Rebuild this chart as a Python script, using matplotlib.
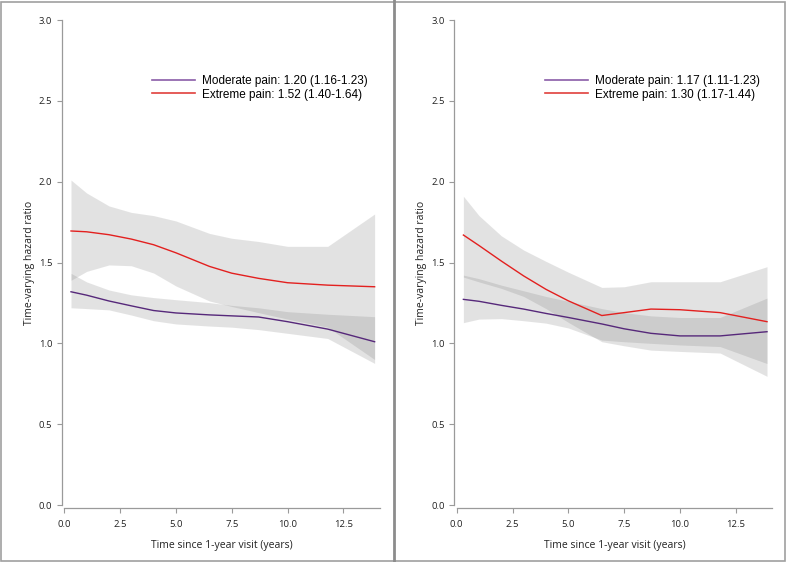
import matplotlib
matplotlib.use("Agg")
import matplotlib.pyplot as plt
from matplotlib.lines import Line2D
from matplotlib.patches import Rectangle

# time grid (years since 1-year visit)
years = [0.3, 1.0, 2.0, 3.0, 4.0, 5.0, 6.5, 7.5, 8.7, 10.0, 11.8, 13.9]

# left panel
left_mod = [1.319, 1.298, 1.262, 1.232, 1.203, 1.188, 1.176, 1.170, 1.163, 1.134, 1.088, 1.010]
left_mod_lo = [1.220, 1.215, 1.207, 1.175, 1.140, 1.120, 1.107, 1.100, 1.085, 1.062, 1.030, 0.876]
left_mod_hi = [1.433, 1.380, 1.330, 1.300, 1.283, 1.270, 1.252, 1.235, 1.220, 1.196, 1.180, 1.165]
left_ext = [1.695, 1.690, 1.672, 1.645, 1.610, 1.560, 1.476, 1.434, 1.402, 1.375, 1.360, 1.350]
left_ext_lo = [1.390, 1.445, 1.485, 1.480, 1.435, 1.355, 1.262, 1.228, 1.190, 1.150, 1.100, 0.900]
left_ext_hi = [2.010, 1.930, 1.850, 1.810, 1.790, 1.757, 1.680, 1.650, 1.630, 1.600, 1.600, 1.800]

# right panel
right_mod = [1.272, 1.260, 1.235, 1.212, 1.185, 1.160, 1.120, 1.090, 1.062, 1.046, 1.046, 1.072]
right_mod_lo = [1.128, 1.150, 1.153, 1.140, 1.125, 1.095, 1.020, 1.010, 1.000, 0.990, 0.980, 0.875]
right_mod_hi = [1.422, 1.400, 1.360, 1.325, 1.290, 1.260, 1.215, 1.190, 1.170, 1.160, 1.160, 1.280]
right_ext = [1.670, 1.605, 1.509, 1.417, 1.334, 1.263, 1.172, 1.190, 1.212, 1.208, 1.190, 1.134]
right_ext_lo = [1.410, 1.380, 1.340, 1.290, 1.215, 1.130, 1.010, 0.985, 0.958, 0.950, 0.940, 0.796]
right_ext_hi = [1.910, 1.790, 1.665, 1.577, 1.507, 1.440, 1.346, 1.350, 1.381, 1.381, 1.381, 1.474]

left_labels = ["Moderate pain: 1.20 (1.16-1.23)", "Extreme pain: 1.52 (1.40-1.64)"]
right_labels = ["Moderate pain: 1.17 (1.11-1.23)", "Extreme pain: 1.30 (1.17-1.44)"]

yticks = [0.0, 0.5, 1.0, 1.5, 2.0, 2.5, 3.0]
xticks = [0.0, 2.5, 5.0, 7.5, 10.0, 12.5]

purple = "#56287a"
red = "#e3201f"
band = "#7f7f7f"
axis_grey = "#9a9a9a"

tick_font = "Open Sans"
legend_font = "Liberation Sans"

fig = plt.figure(figsize=(7.87, 5.62), dpi=100)


def panel(ax, mod, mod_lo, mod_hi, ext, ext_lo, ext_hi, labels, legend_x):
    ax.fill_between(years, mod_lo, mod_hi, color=band, alpha=0.22, lw=0)
    ax.fill_between(years, ext_lo, ext_hi, color=band, alpha=0.22, lw=0)
    ax.plot(years, mod, color=purple, lw=1.0)
    ax.plot(years, ext, color=red, lw=1.0)

    ax.set_xlim(0, 14.14)
    ax.set_ylim(0, 3.0)
    ax.set_xticks(xticks)
    ax.set_yticks(yticks)
    ax.set_xticklabels([f"{t:.1f}" for t in xticks])
    ax.set_yticklabels([f"{t:.1f}" for t in yticks])
    for side in ("top", "right"):
        ax.spines[side].set_visible(False)
    for side in ("left", "bottom"):
        ax.spines[side].set_color(axis_grey)
        ax.spines[side].set_linewidth(0.9)
        ax.spines[side].set_position(("outward", 2))
    ax.tick_params(axis="both", direction="out", length=3.6, width=0.8,
                   color=axis_grey, labelcolor="#222222", labelsize=6.8,
                   labelfontfamily=tick_font)
    ax.tick_params(axis="x", pad=5)
    ax.tick_params(axis="y", pad=3)
    ax.set_xlabel("Time since 1-year visit (years)", fontfamily=tick_font,
                  fontsize=7.5, labelpad=8, color="#222222")
    ax.set_ylabel("Time-varying hazard ratio", fontfamily=tick_font,
                  fontsize=7.5, labelpad=3, color="#222222")

    handles = [Line2D([], [], color="#8a5ca8", lw=1.2),
               Line2D([], [], color="#e0403c", lw=1.2)]
    ax.legend(handles, labels, loc="upper left", bbox_to_anchor=(legend_x, 0.887),
              frameon=False, borderpad=0, borderaxespad=0, handlelength=3.65,
              handletextpad=0.6, labelspacing=0.15,
              prop={"family": legend_font, "size": 8.5})


ax1 = fig.add_axes([0.0817, 0.1014, 0.4011, 0.863])
panel(ax1, left_mod, left_mod_lo, left_mod_hi, left_ext, left_ext_lo, left_ext_hi,
      left_labels, 0.277)

ax2 = fig.add_axes([0.5803, 0.1014, 0.4011, 0.863])
panel(ax2, right_mod, right_mod_lo, right_mod_hi, right_ext, right_ext_lo, right_ext_hi,
      right_labels, 0.279)

# outer frame and divider between the panels
fig.patches.append(Rectangle((0.001, 0.002), 0.997, 0.995, transform=fig.transFigure,
                             fill=False, edgecolor="#a0a0a0", lw=1.2))
fig.lines.append(Line2D([0.5006, 0.5006], [0, 1], transform=fig.transFigure,
                        color="#8c8c8c", lw=2.0))

fig.savefig("out.png", dpi=100)
